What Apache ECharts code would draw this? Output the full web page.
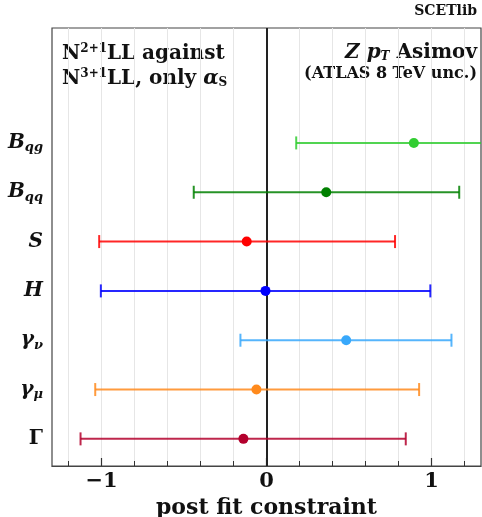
<!DOCTYPE html>
<html><head><meta charset="utf-8">
<script src="https://cdn.jsdelivr.net/npm/echarts@6/dist/echarts.min.js"></script>
<style>html,body{margin:0;padding:0;background:#fff}#c{width:482px;height:517px}</style>
</head><body><div id="c"></div>
<script>
// ---- data ----
const paramSymbols = ['Γ', 'γ', 'γ', 'H', 'S', 'B', 'B'];
const paramSubs    = ['',  'μ', 'ν', '',  '',  'qq', 'qg'];
const paramRows    = [0, 1, 2, 3, 4, 5, 6];
const centers = [-0.14, -0.061, 0.483, -0.006, -0.12, 0.362, 0.893];
const lows    = [-1.127, -1.038, -0.158, -1.004, -1.014, -0.441, 0.18];
const highs   = [0.844, 0.925, 1.121, 0.993, 0.779, 1.168, 1.60];
const colors  = ['#b3002d', '#ff8a1c', '#38a8fb', '#0000ff', '#ff0000', '#008000', '#32cd32'];
const xMajorTicks = [-1, 0, 1];
const xMinorTicks = [-1.2, -1.0, -0.8, -0.6, -0.4, -0.2, 0, 0.2, 0.4, 0.6, 0.8, 1.0, 1.2];
const xTitle = 'post fit constraint';

const FONT = 'DejaVu Serif';
const chart = echarts.init(document.getElementById('c'), null, {renderer: 'canvas'});

const rows = paramRows.map((r, i) => [r, lows[i], centers[i], highs[i], i]);

const option = {
  animation: false,
  backgroundColor: '#fff',
  grid: {left: 52, right: 1, top: 28, bottom: 51, show: true, borderColor: '#444', borderWidth: 1.2,
         containLabel: false, outerBoundsMode: 'none'},
  xAxis: [
    { // labels + major ticks
      type: 'value', min: -1.3, max: 1.3, interval: 0.1,
      axisLine: {show: true, onZero: false, lineStyle: {color: '#444', width: 1.2}},
      axisTick: {show: true, inside: true, length: 8, customValues: xMajorTicks, lineStyle: {color: '#333', width: 1.2}},
      axisLabel: {show: true, customValues: xMajorTicks, margin: 5,
        formatter: v => (v < 0 ? '\u2212' + Math.abs(v) : String(v)),
        fontFamily: FONT, fontWeight: 'bold', fontSize: 21, color: '#111'},
      splitLine: {show: false},
      name: xTitle, nameLocation: 'middle', nameGap: 26,
      nameTextStyle: {fontFamily: FONT, fontWeight: 'bold', fontSize: 22, color: '#111'}
    },
    { // minor ticks
      type: 'value', min: -1.3, max: 1.3, interval: 0.1, position: 'bottom',
      axisLine: {show: false, onZero: false},
      axisTick: {show: true, inside: true, length: 5, customValues: xMinorTicks, lineStyle: {color: '#333', width: 1}},
      axisLabel: {show: false},
      splitLine: {show: false}
    },
    { // grid lines every 0.2
      type: 'value', min: -1.3, max: 1.3, interval: 0.1, position: 'bottom',
      axisLine: {show: false, onZero: false}, axisTick: {show: false}, axisLabel: {show: false},
      splitLine: {show: true, lineStyle: {color: ['rgba(0,0,0,0)', '#e6e6e6'], width: 1}}
    }
  ],
  yAxis: {
    type: 'value', min: -0.55, max: 8.33,
    axisLine: {show: false, onZero: false}, axisTick: {show: false}, splitLine: {show: false},
    axisLabel: {
      show: true, customValues: paramRows, margin: 9,
      formatter: v => {
        const i = paramRows.indexOf(Math.round(v));
        if (i < 0) return '';
        const main = (i === 0) ? '{up|' + paramSymbols[i] + '}' : '{m|' + paramSymbols[i] + '}';
        return paramSubs[i] ? main + '{s|' + paramSubs[i] + '}' : main;
      },
      rich: {
        m: {fontFamily: FONT, fontWeight: 'bold', fontStyle: 'italic', fontSize: 20, color: '#111'},
        up: {fontFamily: FONT, fontWeight: 'bold', fontSize: 20, color: '#111'},
        s: {fontFamily: FONT, fontWeight: 'bold', fontStyle: 'italic', fontSize: 13, color: '#111', padding: [10, 0, 0, 0]}
      }
    }
  },
  series: [
    {
      type: 'custom',
      xAxisIndex: 0,
      clip: true,
      data: rows,
      encode: {x: [1, 2, 3], y: 0},
      renderItem: function (params, api) {
        const y = api.value(0);
        const idx = api.value(4);
        const pL = api.coord([api.value(1), y]);
        const pC = api.coord([api.value(2), y]);
        const pR = api.coord([api.value(3), y]);
        const col = colors[idx];
        const cap = 6.5;
        const ls = {stroke: col, lineWidth: 2, opacity: 0.85};
        return {
          type: 'group',
          children: [
            {type: 'line', shape: {x1: pL[0], y1: pL[1], x2: pR[0], y2: pR[1]}, style: ls},
            {type: 'line', shape: {x1: pL[0], y1: pL[1] - cap, x2: pL[0], y2: pL[1] + cap}, style: ls},
            {type: 'line', shape: {x1: pR[0], y1: pR[1] - cap, x2: pR[0], y2: pR[1] + cap}, style: ls},
            {type: 'circle', shape: {cx: pC[0], cy: pC[1], r: 5}, style: {fill: col}, z2: 10}
          ]
        };
      },
      markLine: {
        silent: true, symbol: 'none', label: {show: false},
        lineStyle: {color: '#222', width: 2, type: 'solid'},
        data: [{xAxis: 0}],
        z: 1
      },
      z: 5
    }
  ],
  graphic: [
    {type: 'text', right: 5, top: 4, style: {text: 'SCETlib', font: 'bold 14px "DejaVu Serif"', fill: '#111'}},
    {type: 'text', left: 62, top: 43, style: {
      text: '{t|N}{sup|2+1}{t|LL against}\n{t|N}{sup|3+1}{t|LL, only }{gi|α}{sub|S}',
      rich: {
        t: {font: 'bold 20px "DejaVu Serif"', fill: '#111', lineHeight: 25},
        gi: {font: 'italic bold 20px "DejaVu Serif"', fill: '#111', lineHeight: 25},
        sup: {font: 'bold 12px "DejaVu Serif"', fill: '#111', padding: [0, 0, 9, 0], lineHeight: 25},
        sub: {font: 'bold 12px "DejaVu Serif"', fill: '#111', padding: [8, 0, 0, 0], lineHeight: 25}
      }}},
    {type: 'text', right: 5, top: 43, style: {
      text: '{gi|Z }{gi|p}{sub|T}{t| Asimov}',
      rich: {
        t: {font: 'bold 20px "DejaVu Serif"', fill: '#111', lineHeight: 25},
        gi: {font: 'italic bold 20px "DejaVu Serif"', fill: '#111', lineHeight: 25},
        sub: {font: 'italic bold 12px "DejaVu Serif"', fill: '#111', padding: [8, 0, 0, 0], lineHeight: 25}
      }}},
    {type: 'text', right: 5, top: 66, style: {text: '(ATLAS 8 TeV unc.)', font: 'bold 16px "DejaVu Serif"', fill: '#111'}}
  ]
};
chart.setOption(option);
</script></body></html>
